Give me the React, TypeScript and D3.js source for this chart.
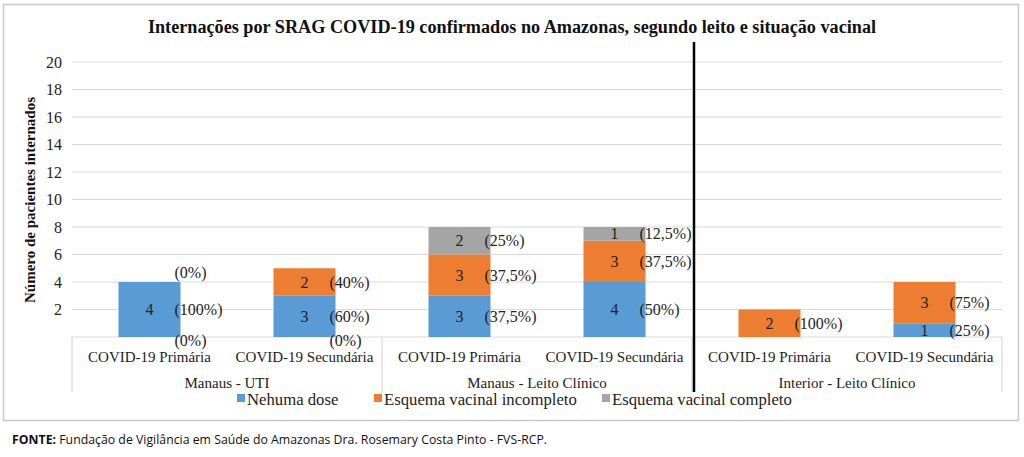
import React from "react";
import * as d3 from "d3";

const categories = ["COVID-19 Primária", "COVID-19 Secundária", "COVID-19 Primária", "COVID-19 Secundária", "COVID-19 Primária", "COVID-19 Secundária"];
const groups = ["Manaus - UTI", "Manaus - Leito Clínico", "Interior - Leito Clínico"];
const seriesNames = ["Nehuma dose", "Esquema vacinal incompleto", "Esquema vacinal completo"];
const nenhumaDose = [4, 3, 3, 4, 0, 1];
const incompleto = [0, 2, 3, 3, 2, 3];
const completo = [0, 0, 2, 1, 0, 0];
const pctNenhuma = ["(100%)", "(60%)", "(37,5%)", "(50%)", "", "(25%)"];
const pctIncompleto = ["(0%)", "(40%)", "(37,5%)", "(37,5%)", "(100%)", "(75%)"];
const pctCompleto = ["(0%)", "(0%)", "(25%)", "(12,5%)", "", ""];
const yTicks = [2, 4, 6, 8, 10, 12, 14, 16, 18, 20];
const colors = ["#5B9BD5", "#ED7D31", "#A5A5A5"];

const W = 1024, H = 457;
const left = 72, right = 1002, top = 62, bottom = 337;
const serif = "'Liberation Serif', 'Times New Roman', serif";

export default function App() {
  const series = [nenhumaDose, incompleto, completo];
  const pcts = [pctNenhuma, pctIncompleto, pctCompleto];
  const x = d3.scaleBand<number>().domain(d3.range(categories.length)).range([left, right]).paddingInner(0.6).paddingOuter(0.3);
  const y = d3.scaleLinear().domain([0, 20]).range([bottom, top]);
  const stackData = categories.map((_, i) => ({ i, s0: series[0][i], s1: series[1][i], s2: series[2][i] }));
  const stacked = d3.stack<any>().keys(["s0", "s1", "s2"])(stackData);
  const step = x.step();
  const groupEdges = [0, 2, 4, 6].map((k) => left + k * step);
  const bw = x.bandwidth();

  return (
    <svg width={W} height={H} style={{ position: "absolute", left: 0, top: 0, background: "#fff" }}>
      <rect x={3.5} y={4.5} width={1015} height={416} fill="#fff" stroke="#c8c8c8" strokeWidth={1.5} />
      <text x={512} y={33} textAnchor="middle" fontFamily={serif} fontWeight="bold" fontSize={18.2} fill="#111">
        Internações por SRAG COVID-19 confirmados no Amazonas, segundo leito e situação vacinal
      </text>
      {/* gridlines */}
      {[0, ...yTicks].map((t) => (
        <line key={t} x1={left} x2={right} y1={y(t)} y2={y(t)} stroke="#d9d9d9" strokeWidth={1} />
      ))}
      {yTicks.map((t) => (
        <text key={t} x={62} y={y(t)} dy="0.35em" textAnchor="end" fontFamily={serif} fontSize={16} fill="#222">{t}</text>
      ))}
      <text transform={`translate(35,200) rotate(-90)`} textAnchor="middle" fontFamily={serif} fontWeight="bold" fontSize={15} fill="#111">
        Número de pacientes internados
      </text>
      {/* bars */}
      {stacked.map((layer, si) =>
        layer.map((d, ci) => {
          const v = d[1] - d[0];
          if (v <= 0) return null;
          return <rect key={`${si}-${ci}`} x={x(ci)} y={y(d[1])} width={bw} height={y(d[0]) - y(d[1])} fill={colors[si]} />;
        })
      )}
      {/* category axis box */}
      {groupEdges.map((gx, k) => (
        <line key={k} x1={gx} x2={gx} y1={bottom} y2={392} stroke="#d0d0d0" strokeWidth={1} />
      ))}
      {categories.map((c, i) => (
        <text key={i} x={(x(i) as number) + bw / 2} y={357} dy="0.35em" textAnchor="middle" fontFamily={serif} fontSize={15} fill="#222">{c}</text>
      ))}
      {groups.map((g, k) => (
        <text key={g} x={(groupEdges[k] + groupEdges[k + 1]) / 2} y={383} dy="0.35em" textAnchor="middle" fontFamily={serif} fontSize={15} fill="#222">{g}</text>
      ))}
      {/* value labels */}
      {stacked.map((layer, si) =>
        layer.map((d, ci) => {
          const v = d[1] - d[0];
          if (v <= 0) return null;
          return (
            <text key={`v${si}-${ci}`} x={(x(ci) as number) + bw / 2} y={(y(d[0]) + y(d[1])) / 2} dy="0.35em" textAnchor="middle" fontFamily={serif} fontSize={16} fill="#222">{v}</text>
          );
        })
      )}
      {/* percentage labels */}
      {stacked.map((layer, si) =>
        layer.map((d, ci) => {
          const label = pcts[si][ci];
          if (!label) return null;
          const v = d[1] - d[0];
          let yy = (y(d[0]) + y(d[1])) / 2;
          if (v <= 0) yy = si === 1 ? y(d[1]) - 10 : y(0) + 3;
          return (
            <text key={`p${si}-${ci}`} x={(x(ci) as number) + bw - 6} y={yy} dy="0.35em" textAnchor="start" fontFamily={serif} fontSize={16} fill="#222">{label}</text>
          );
        })
      )}
      {/* divider */}
      <line x1={694} x2={694} y1={42} y2={392} stroke="#000" strokeWidth={2.5} />
      {/* legend */}
      {(() => {
        const items = [237, 374, 602];
        return seriesNames.map((n, i) => (
          <g key={n}>
            <rect x={items[i]} y={394} width={8} height={8} fill={colors[i]} />
            <text x={items[i] + 10} y={399} dy="0.35em" fontFamily={serif} fontSize={16.7} fill="#222">{n}</text>
          </g>
        ));
      })()}
      <text x={12} y={444} fontFamily="'Open Sans', sans-serif" fontSize={12.3} fill="#111">
        <tspan fontWeight="bold">FONTE:</tspan> Fundação de Vigilância em Saúde do Amazonas Dra. Rosemary Costa Pinto - FVS-RCP.
      </text>
    </svg>
  );
}
